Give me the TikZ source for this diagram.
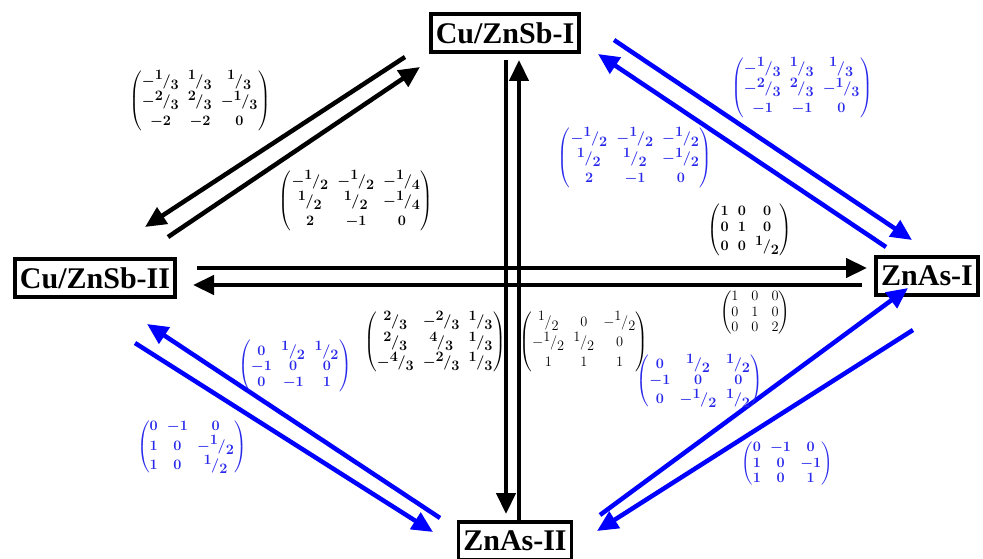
\documentclass[tikz,border=0pt]{standalone}
\usepackage{amsmath}
\usepackage{fontspec}
\setmainfont{Liberation Serif}
\usetikzlibrary{arrows.meta}
\newcommand{\fr}[2]{{}^{\textstyle #1}\mkern-1mu/_{\textstyle #2}}
\definecolor{arrblue}{RGB}{0,0,255}
\definecolor{matblue}{RGB}{40,40,235}
\newsavebox\mA \newsavebox\mB \newsavebox\mC \newsavebox\mD
\newsavebox\mE \newsavebox\mF \newsavebox\mG \newsavebox\mH
\newsavebox\mI \newsavebox\mJ \newsavebox\mK \newsavebox\mL
\newcommand{\msz}{\fontsize{14}{16.5}\selectfont\renewcommand{\arraystretch}{1.2}\setlength{\arraycolsep}{4.3pt}}
\newcommand{\isz}{\fontsize{14}{16.5}\selectfont\renewcommand{\arraystretch}{0.95}\setlength{\arraycolsep}{4.6pt}}
\begin{document}
\sbox\mA{\msz\boldmath$\begin{pmatrix} -\fr{1}{3} & \fr{1}{3} & \fr{1}{3}\\ -\fr{2}{3} & \fr{2}{3} & -\fr{1}{3}\\ -2 & -2 & 0\end{pmatrix}$}
\sbox\mB{\msz\boldmath$\begin{pmatrix} -\fr{1}{2} & -\fr{1}{2} & -\fr{1}{4}\\ \fr{1}{2} & \fr{1}{2} & -\fr{1}{4}\\ 2 & -1 & 0\end{pmatrix}$}
\sbox\mC{\msz\color{matblue}\boldmath$\begin{pmatrix} -\fr{1}{3} & \fr{1}{3} & \fr{1}{3}\\ -\fr{2}{3} & \fr{2}{3} & -\fr{1}{3}\\ -1 & -1 & 0\end{pmatrix}$}
\sbox\mD{\msz\color{matblue}\boldmath$\begin{pmatrix} -\fr{1}{2} & -\fr{1}{2} & -\fr{1}{2}\\ \fr{1}{2} & \fr{1}{2} & -\fr{1}{2}\\ 2 & -1 & 0\end{pmatrix}$}
\sbox\mE{\isz\boldmath$\begin{pmatrix} 1 & 0 & 0\\ 0 & 1 & 0\\ 0 & 0 & \fr{1}{2}\end{pmatrix}$}
\sbox\mF{\isz\setlength{\arraycolsep}{6.5pt}$\begin{pmatrix} 1 & 0 & 0\\ 0 & 1 & 0\\ 0 & 0 & 2\end{pmatrix}$}
\sbox\mG{\isz\color{matblue}\boldmath$\begin{pmatrix} 0 & \fr{1}{2} & \fr{1}{2}\\ -1 & 0 & 0\\ 0 & -1 & 1\end{pmatrix}$}
\sbox\mH{\msz\boldmath$\begin{pmatrix} \fr{2}{3} & -\fr{2}{3} & \fr{1}{3}\\ \fr{2}{3} & \fr{4}{3} & \fr{1}{3}\\ -\fr{4}{3} & -\fr{2}{3} & \fr{1}{3}\end{pmatrix}$}
\sbox\mI{\msz$\begin{pmatrix} \fr{1}{2} & 0 & -\fr{1}{2}\\ -\fr{1}{2} & \fr{1}{2} & 0\\ 1 & 1 & 1\end{pmatrix}$}
\sbox\mJ{\isz\color{matblue}\boldmath$\begin{pmatrix} 0 & \fr{1}{2} & \fr{1}{2}\\ -1 & 0 & 0\\ 0 & -\fr{1}{2} & \fr{1}{2}\end{pmatrix}$}
\sbox\mK{\isz\color{matblue}\boldmath$\begin{pmatrix} 0 & -1 & 0\\ 1 & 0 & -\fr{1}{2}\\ 1 & 0 & \fr{1}{2}\end{pmatrix}$}
\sbox\mL{\isz\color{matblue}\boldmath$\begin{pmatrix} 0 & -1 & 0\\ 1 & 0 & -1\\ 1 & 0 & 1\end{pmatrix}$}
\begin{tikzpicture}[x=1pt,y=-1pt,
  state/.style={draw, line width=3.5pt, font=\fontsize{30}{36}\selectfont\bfseries, inner xsep=5pt, inner ysep=0pt, minimum height=38pt},
  blk/.style={line width=4.5pt, draw=black, -{Triangle[length=21pt,width=19pt]}},
  blu/.style={line width=4.5pt, draw=arrblue, -{Triangle[length=21pt,width=19pt]}},
  mat/.style={inner sep=0pt}]
\useasboundingbox (0,0) rectangle (983,559);
% states
\node[state] (s1) at (505,33) {Cu/ZnSb-I};
\node[state] (s2) at (95,278) {Cu/ZnSb-II};
\node[state] (s3) at (927,276) {ZnAs-I};
\node[state] (s4) at (515,541) {ZnAs-II};
% arrow end coordinates
\coordinate (a1s) at (405,57);  \coordinate (a1e) at (145,227);
\coordinate (a2s) at (168,237); \coordinate (a2e) at (420,67);
\coordinate (v1s) at (506,60);  \coordinate (v1e) at (506,514);
\coordinate (v2s) at (519,522); \coordinate (v2e) at (519,60);
\coordinate (h1s) at (197,268); \coordinate (h1e) at (867,268);
\coordinate (h2s) at (862,285); \coordinate (h2e) at (193,285);
\coordinate (b1s) at (614,40);  \coordinate (b1e) at (912,240);
\coordinate (b2s) at (886,247); \coordinate (b2e) at (598,54);
\coordinate (c1s) at (440,518); \coordinate (c1e) at (147,324);
\coordinate (c2s) at (135,343); \coordinate (c2e) at (433,532);
\coordinate (d1s) at (600,515); \coordinate (d1e) at (908,288);
\coordinate (d2s) at (913,330); \coordinate (d2e) at (597,531);
% arrows
\draw[blk] (a1s) -- (a1e);
\draw[blk] (a2s) -- (a2e);
\draw[blk] (v1s) -- (v1e);
\draw[blk] (v2s) -- (v2e);
\draw[blk] (h1s) -- (h1e);
\draw[blk] (h2s) -- (h2e);
\draw[blu] (b1s) -- (b1e);
\draw[blu] (b2s) -- (b2e);
\draw[blu] (c1s) -- (c1e);
\draw[blu] (c2s) -- (c2e);
\draw[blu] (d1s) -- (d1e);
\draw[blu] (d2s) -- (d2e);
% matrices
\node[mat] (m1) at (200,101) {\usebox\mA};
\node[mat] (m2) at (356,201) {\usebox\mB};
\node[mat] (m3) at (802,88) {\usebox\mC};
\node[mat] (m4) at (635,158) {\usebox\mD};
\node[mat] (m5) at (750,230) {\usebox\mE};
\node[mat] (m6) at (755,313) {\usebox\mF};
\node[mat] (m7) at (295,366) {\usebox\mG};
\node[mat] (m8) at (435,342) {\usebox\mH};
\node[mat] (m9) at (584,342) {\usebox\mI};
\node[mat] (m10) at (700,381) {\usebox\mJ};
\node[mat] (m11) at (192,447) {\usebox\mK};
\node[mat] (m12) at (787,464) {\usebox\mL};
\end{tikzpicture}
\end{document}
